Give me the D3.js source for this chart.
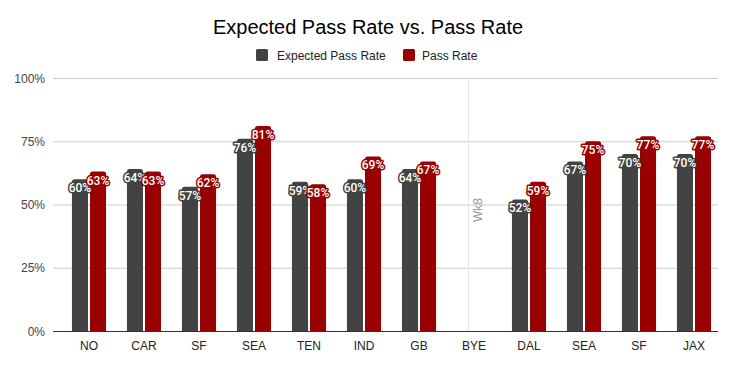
<!DOCTYPE html>
<html><head><meta charset="utf-8">
<script src="https://cdn.jsdelivr.net/npm/d3@7"></script>
<style>body{margin:0;background:#fff;}svg{display:block;font-family:Arial,"Liberation Sans",sans-serif;}</style>
</head><body>
<svg id="c" width="736" height="365"></svg>
<script>
const categories = ["NO","CAR","SF","SEA","TEN","IND","GB","BYE","DAL","SEA","SF","JAX"];
const expectedPassRate = [60,64,57,76,59,60,64,null,52,67,70,70];
const passRate = [63,63,62,81,58,69,67,null,59,75,77,77];
const yTicks = [0,25,50,75,100];
const seriesNames = ["Expected Pass Rate","Pass Rate"];
const colors = ["#434343","#990000"];

(function(){
const svg = d3.select("#c");
const pl = 53, pr = 718, pt = 78, pb = 331;
const x = d3.scaleBand().domain(d3.range(categories.length)).range([61.5, 721.5]).paddingInner(0.38).paddingOuter(0.19);
const y = d3.scaleLinear().domain([0,100]).range([pb, pt]);

svg.append("text").attr("x",368).attr("y",34).attr("text-anchor","middle")
  .attr("font-size",20).attr("fill","#000").text("Expected Pass Rate vs. Pass Rate");

// legend
const lg = [{x:256,tx:277},{x:403,tx:422}];
seriesNames.forEach((n,i)=>{
  svg.append("rect").attr("x",lg[i].x).attr("y",49).attr("width",12).attr("height",12).attr("rx",1.5).attr("fill",colors[i]);
  svg.append("text").attr("x",lg[i].tx).attr("y",59.5).attr("font-size",12).attr("fill","#222").text(n);
});

// grid
svg.append("g").selectAll("line").data(yTicks.slice(1)).join("line")
  .attr("x1",pl).attr("x2",pr).attr("y1",d=>y(d)+0.5).attr("y2",d=>y(d)+0.5)
  .attr("stroke","#ccc").attr("stroke-width",1);
svg.append("g").selectAll("text").data(yTicks).join("text")
  .attr("x",45).attr("y",d=>y(d)+4.5).attr("text-anchor","end").attr("font-size",12).attr("fill","#444")
  .text(d=>d+"%");

// Wk8 line
const byeIdx = categories.indexOf("BYE");
const wx = Math.round(x(byeIdx) + x.bandwidth()/2 - 6) + 0.5;
svg.append("line").attr("x1",wx).attr("x2",wx).attr("y1",pt).attr("y2",pb).attr("stroke","#e4e4e4");
svg.append("text").attr("transform",`translate(${wx+13},${222}) rotate(-90)`)
  .attr("font-size",12).attr("fill","#999").text("Wk8");

const bw = (x.bandwidth()-2)/2;
function topRounded(x0,y0,w,h,r){
  r=Math.min(r,h,w/2);
  return `M${x0},${y0+h}V${y0+r}Q${x0},${y0} ${x0+r},${y0}H${x0+w-r}Q${x0+w},${y0} ${x0+w},${y0+r}V${y0+h}Z`;
}
const series = [expectedPassRate, passRate];
series.forEach((vals,si)=>{
  const data = vals.map((v,i)=>({v,i})).filter(d=>d.v!=null);
  svg.append("g").selectAll("path").data(data).join("path")
    .attr("d",d=>{const x0=x(d.i)+si*(bw+2); const y0=y(d.v); return topRounded(x0,y0,bw,pb-y0,2.5);})
    .attr("fill",colors[si]);
});

// baseline
svg.append("line").attr("x1",pl).attr("x2",pr).attr("y1",pb+0.5).attr("y2",pb+0.5).attr("stroke","#333");

// labels
series.forEach((vals,si)=>{
  const data = vals.map((v,i)=>({v,i})).filter(d=>d.v!=null);
  const g = svg.append("g").attr("font-family","Roboto,sans-serif");
  g.selectAll("text.h").data(data).join("text")
    .attr("x",d=>x(d.i)+si*(bw+2)+bw/2).attr("y",d=>y(d.v)+13)
    .attr("text-anchor","middle").attr("font-size",12).attr("font-weight",500)
    .attr("fill","none").attr("stroke",colors[si]).attr("stroke-width",3).attr("stroke-linejoin","round")
    .text(d=>d.v+"%");
  g.selectAll("text.f").data(data).join("text")
    .attr("x",d=>x(d.i)+si*(bw+2)+bw/2).attr("y",d=>y(d.v)+13)
    .attr("text-anchor","middle").attr("font-size",12).attr("font-weight",500)
    .attr("fill","#fff").text(d=>d.v+"%");
});

// x labels
svg.append("g").selectAll("text").data(categories).join("text")
  .attr("x",(d,i)=>x(i)+x.bandwidth()/2).attr("y",350).attr("text-anchor","middle")
  .attr("font-size",12).attr("fill","#222").text(d=>d);
})();
</script>
</body></html>
